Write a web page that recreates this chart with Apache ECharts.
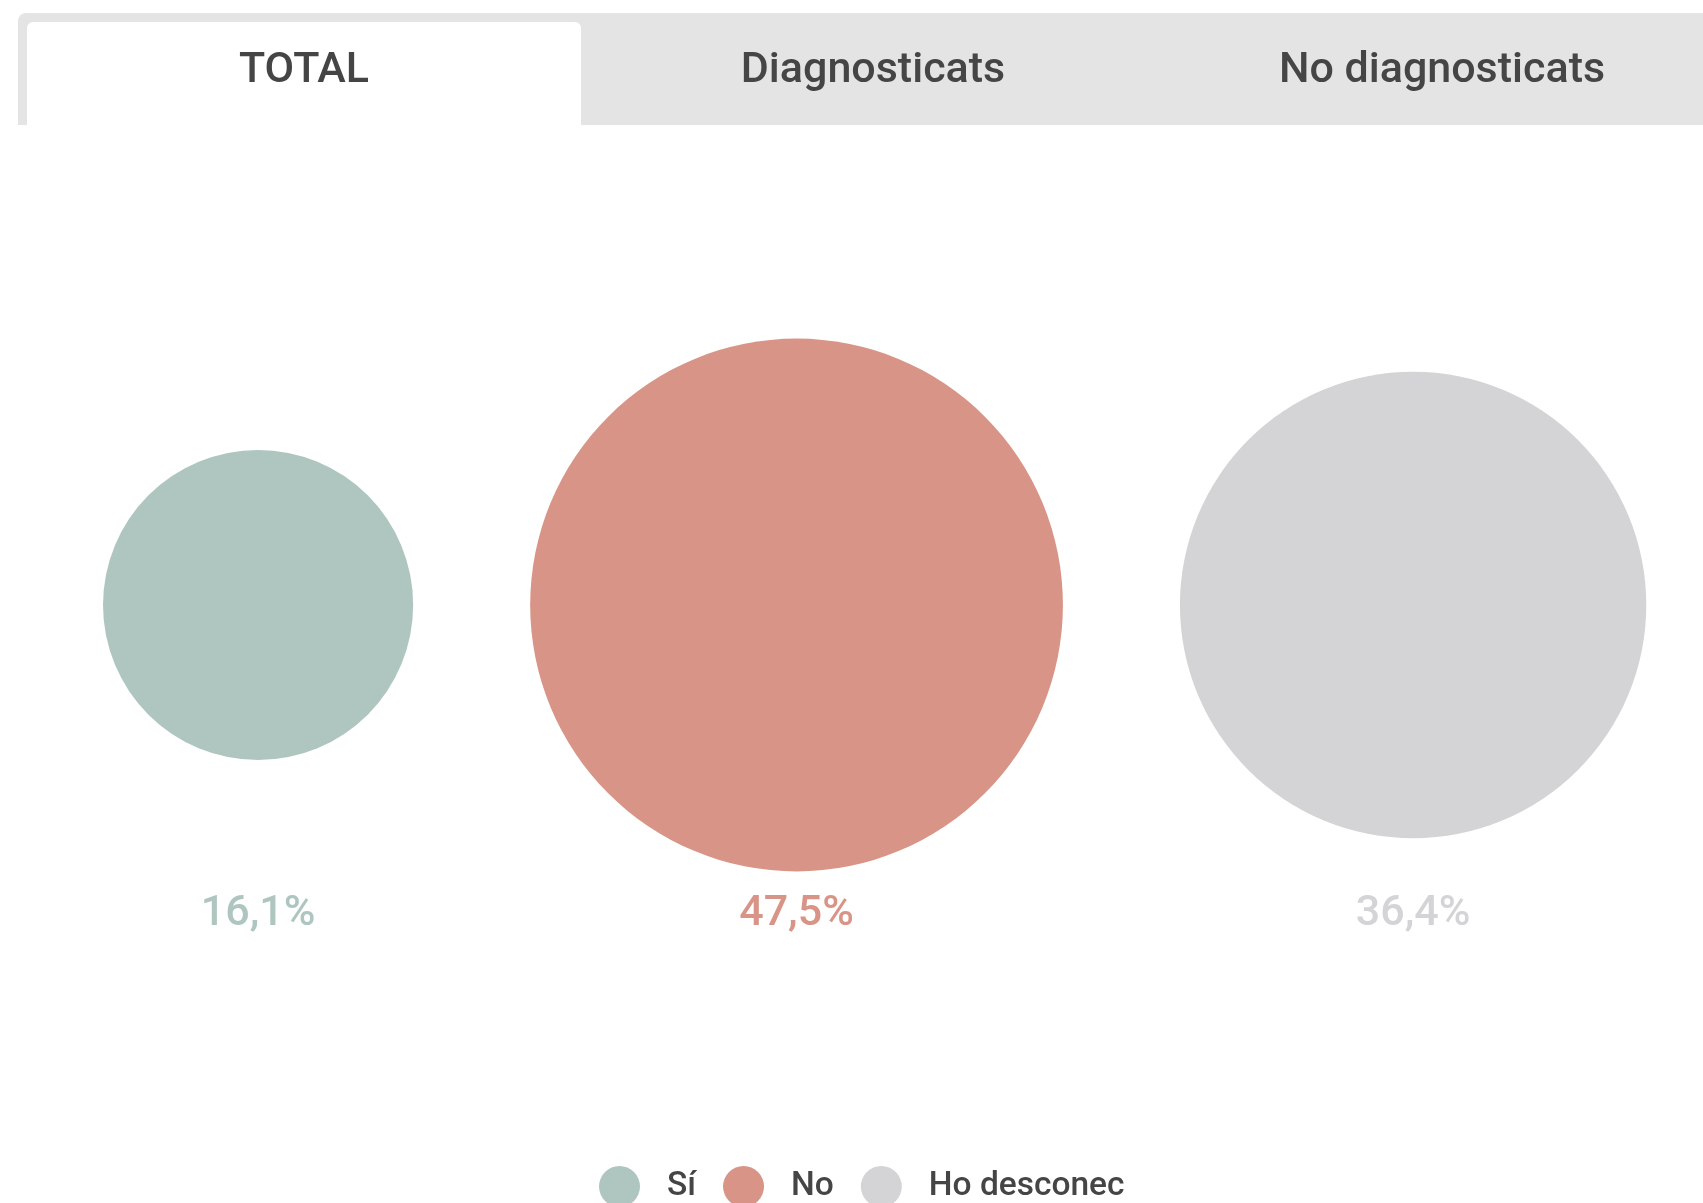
<!DOCTYPE html>
<html>
<head>
<meta charset="utf-8">
<script src="https://cdn.jsdelivr.net/npm/echarts@6/dist/echarts.min.js"></script>
<style>
html,body{margin:0;padding:0;background:#fff;}
#chart{width:1703px;height:1203px;}
</style>
</head>
<body>
<div id="chart"></div>
<script>
// ---- data ----
var categories = ['Sí', 'No', 'Ho desconec'];
var values = [16.1, 47.5, 36.4];
var valueLabels = ['16,1%', '47,5%', '36,4%'];
var tabLabels = ['TOTAL', 'Diagnosticats', 'No diagnosticats'];
var colors = ['#AEC6BF', '#D89486', '#D4D4D6'];

// ---- layout ----
var W = 1703;
var sizeScale = 77.3;      // diameter per sqrt(value)
var startX = 103;          // left edge of first bubble
var gapX = 117;            // gap between bubbles

var diam = values.map(function (v) { return sizeScale * Math.sqrt(v); });
var centers = [];
var cur = startX;
for (var i = 0; i < values.length; i++) {
  centers.push(cur + diam[i] / 2);
  cur += diam[i] + gapX;
}

var series = categories.map(function (name, i) {
  return {
    name: name,
    type: 'scatter',
    data: [[centers[i], 'all', values[i]]],
    symbol: 'circle',
    symbolSize: function (d) { return sizeScale * Math.sqrt(d[2]); },
    itemStyle: { color: colors[i], opacity: 1 },
    label: {
      show: true,
      position: 'inside',
      offset: [0, 309],
      formatter: valueLabels[i],
      color: colors[i],
      fontFamily: 'Roboto',
      fontWeight: 500,
      fontSize: 43
    },
    emphasis: { disabled: true },
    silent: true
  };
});

// tabs
var tabCenters = [304, 873, 1442];
var graphics = [
  { type: 'rect', shape: { x: 18, y: 13, width: W - 18, height: 112, r: [8, 0, 0, 0] }, style: { fill: '#E4E4E4' }, silent: true },
  { type: 'rect', shape: { x: 27, y: 22, width: 554, height: 103, r: [6, 6, 0, 0] }, style: { fill: '#FFFFFF' }, silent: true }
];
tabLabels.forEach(function (t, i) {
  graphics.push({
    type: 'text',
    x: tabCenters[i], y: 71,
    style: {
      text: t, fill: '#454545', font: '500 43px Roboto',
      textAlign: 'center', textVerticalAlign: 'middle'
    },
    silent: true
  });
});

var chart = echarts.init(document.getElementById('chart'), null, { renderer: 'canvas' });
chart.setOption({
  backgroundColor: '#fff',
  animation: false,
  grid: { left: 0, right: 0, top: 130, height: 950 },
  xAxis: { type: 'value', min: 0, max: W, show: false },
  yAxis: { type: 'category', data: ['all'], show: false },
  legend: {
    data: categories,
    left: 594,
    top: 1161,
    icon: 'circle',
    itemWidth: 41,
    itemHeight: 41,
    itemGap: 27,
    selectedMode: false,
    textStyle: {
      fontFamily: 'Roboto',
      fontWeight: 500,
      fontSize: 33.5,
      color: '#454545',
      padding: [0, 0, 0, 22]
    }
  },
  graphic: graphics,
  series: series
});
</script>
</body>
</html>
